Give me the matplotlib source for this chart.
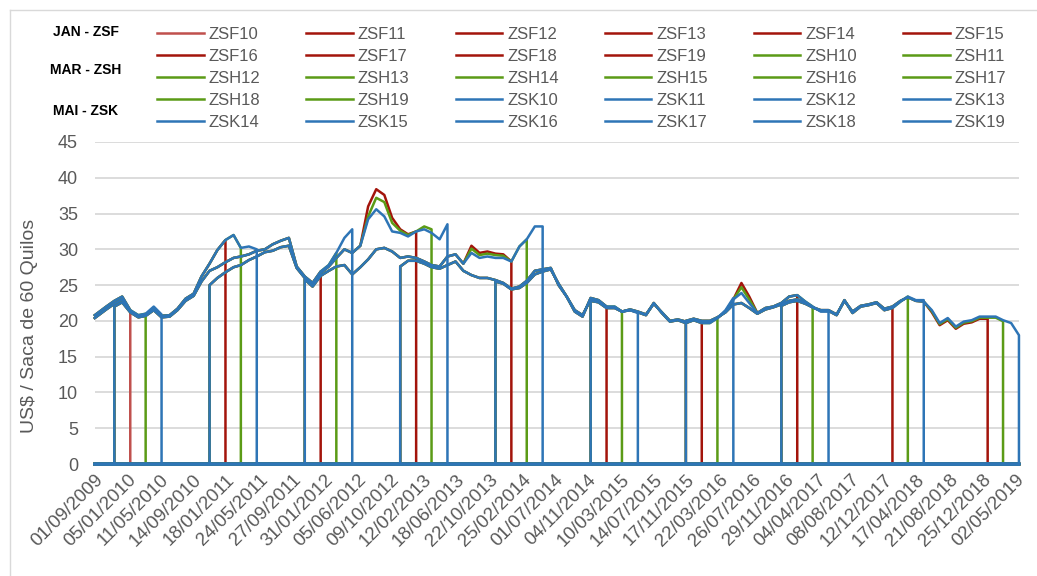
import matplotlib
matplotlib.use('Agg')
import matplotlib.pyplot as plt
from matplotlib.lines import Line2D
import pandas as pd

plt.rcParams['font.family'] = ['Liberation Sans', 'DejaVu Sans']

CINZA = '#595959'
COR_F10 = '#C0504D'
COR_F = '#A3140B'
COR_H = '#5B9B16'
COR_K = '#2E75B6'

anos = list(range(2010, 2020))

# preco do grupo mais proximo (contrato cujo vencimento de maio vem primeiro), US$/saca, dia 15 de cada mes
front = [20.8, 22.0, 22.8, 23.4, 21.5, 20.8, 21.0, 22.0, 20.9, 20.8, 21.7, 23.1,
         23.8, 26.2, 28.0, 29.9, 31.3, 32.0, 30.2, 30.4, 30.0, 30.0, 30.7, 31.2,
         31.6, 27.6, 26.2, 25.3, 26.9, 27.8, 29.5, 31.6, 32.8, 30.5, 34.2, 35.6,
         34.6, 32.5, 32.3, 31.8, 32.5, 32.8, 32.3, 31.4, 33.5, 29.3, 28.0, 29.5,
         28.8, 29.0, 28.8, 28.8, 28.3, 30.4, 31.4, 33.2, 33.2, 27.4, 25.0, 23.4,
         21.3, 20.6, 23.2, 22.9, 22.0, 22.0, 21.3, 21.5, 21.1, 20.8, 22.5, 21.1,
         19.9, 20.1, 19.7, 20.1, 19.7, 19.7, 20.4, 21.5, 23.2, 23.9, 22.5, 21.1,
         21.8, 22.0, 22.5, 23.4, 23.6, 22.7, 22.0, 21.3, 21.3, 20.8, 22.9, 21.1,
         22.0, 22.2, 22.5, 21.5, 21.8, 22.7, 23.4, 22.9, 22.9, 21.5, 19.7, 20.4,
         19.2, 19.9, 20.1, 20.6, 20.6, 20.6, 20.1, 19.7, 18.0]

# grupo do ano seguinte
second = [20.4, 21.6, 22.4, 23.0, 21.3, 20.6, 20.8, 21.7, 20.7, 20.6, 21.5, 22.8,
          23.5, 25.5, 27.0, 27.5, 28.2, 28.8, 29.0, 29.3, 29.8, 29.6, 29.8, 30.3,
          30.5, 27.4, 26.0, 25.2, 26.7, 27.6, 28.8, 30.0, 29.5, 27.5, 28.6, 30.0,
          30.2, 29.7, 28.8, 29.0, 28.8, 28.3, 27.8, 27.6, 29.0, 28.3, 27.0, 26.4,
          26.0, 26.0, 25.7, 25.3, 24.5, 24.8, 25.6, 27.0, 27.2, 27.2, 25.2, 23.4,
          21.5, 20.8, 23.0, 22.7, 21.9, 21.9, 21.3, 21.5, 21.2, 20.9, 22.4, 21.2,
          20.0, 20.2, 19.9, 20.2, 19.9, 19.9, 20.4, 21.3, 23.0, 22.5, 21.8, 21.0,
          21.6, 21.9, 22.3, 22.8, 23.0, 22.5, 21.9, 21.4, 21.4, 20.9, 22.8, 21.3,
          22.1, 22.3, 22.6, 21.7, 22.0, 22.8, 23.3, 22.8, 22.7]

# grupo de dois anos a frente (entre novembro e maio)
N = None
third = [N, N, 22.0, 22.6, 21.2, 20.5, 20.7, 21.5, 20.5, N, N, N,
         N, N, 25.0, 26.0, 26.8, 27.5, 27.8, 28.5, 29.0, N, N, N,
         N, N, 25.8, 24.8, 26.3, 27.0, 27.6, 27.8, 26.5, N, N, N,
         N, N, 27.6, 28.4, 28.4, 28.0, 27.5, 27.3, 27.8, N, N, N,
         N, N, 25.5, 25.2, 24.4, 24.6, 25.3, 26.5, 26.9, N, N, N,
         N, N, 22.8, 22.6, 21.8, 21.8, 21.3, 21.6, 21.3, N, N, N,
         N, N, 20.0, 20.3, 20.0, 20.0, 20.5, 21.2, 22.3, N, N, N,
         N, N, 22.1, 22.6, 22.8, 22.4, 21.9, 21.5, 21.5]

# premio de janeiro/marco sobre maio no grupo mais proximo
premio_idx = [34, 35, 36, 37, 38, 39, 41, 42, 47, 48, 49, 50, 51, 81, 82,
              105, 106, 107, 108, 109, 110, 111, 112, 113, 114]
premio_f = [1.8, 2.8, 3.0, 1.9, 0.5, 0.3, 0.0, 0.0, 1.0, 0.7, 0.7, 0.6, 0.5, 1.4, 0.9,
            -0.3, -0.3, -0.3, -0.3, -0.3, -0.3, -0.3, -0.3, 0.0, 0.0]
premio_h = [0.4, 1.6, 2.0, 1.2, 0.3, 0.2, 0.4, 0.5, 0.6, 0.4, 0.4, 0.4, 0.3, 0.8, 0.5,
            -0.15, -0.15, -0.15, -0.15, -0.15, -0.15, -0.15, -0.15, -0.15, -0.15]

tick_labels = ['01/09/2009', '05/01/2010', '11/05/2010', '14/09/2010', '18/01/2011',
               '24/05/2011', '27/09/2011', '31/01/2012', '05/06/2012', '09/10/2012',
               '12/02/2013', '18/06/2013', '22/10/2013', '25/02/2014', '01/07/2014',
               '04/11/2014', '10/03/2015', '14/07/2015', '17/11/2015', '22/03/2016',
               '26/07/2016', '29/11/2016', '04/04/2017', '08/08/2017', '12/12/2017',
               '17/04/2018', '21/08/2018', '25/12/2018', '02/05/2019']

meses = pd.date_range('2009-09-01', '2019-05-01', freq='MS') + pd.Timedelta(days=14)
datas = [pd.Timestamp('2009-09-01')] + list(meses[1:])
n = len(datas)


def idx_maio(ano):
    return 8 + 12 * (ano - 2010)


def inicio(ano):
    if ano <= 2011:
        return 0
    return 2 + 12 * (ano - 2012)


def valor(ano, i, premio):
    if i > idx_maio(ano - 1):
        return front[i] + premio.get(i, 0.0)
    if i > idx_maio(ano - 2):
        return second[i]
    return third[i]


def serie(ano, fim, premio):
    s = inicio(ano)
    xs, ys = [], []
    for i in range(0, s + 1 if s > 0 else 0):
        xs.append(datas[i])
        ys.append(0)
    for i in range(s, fim + 1):
        xs.append(datas[i])
        ys.append(valor(ano, i, premio))
    xs.append(datas[fim])
    ys.append(0)
    for i in range(fim + 1, n):
        xs.append(datas[i])
        ys.append(0)
    return xs, ys


pf = dict(zip(premio_idx, premio_f))
ph = dict(zip(premio_idx, premio_h))

fig = plt.figure(figsize=(10.37, 5.76), dpi=100)
ax = fig.add_axes([0.0914, 0.1944, 0.8912, 0.5591])

handles = []
for letra, cor, desloc, premio in [('F', COR_F, 4, pf), ('H', COR_H, 2, ph), ('K', COR_K, 0, {})]:
    for ano in anos:
        c = COR_F10 if (letra == 'F' and ano == 2010) else cor
        xs, ys = serie(ano, idx_maio(ano) - desloc, premio)
        h, = ax.plot(xs, ys, color=c, lw=1.8, clip_on=False, solid_joinstyle='round',
                     label='ZS%s%d' % (letra, ano % 100))
        handles.append(h)

ax.set_ylim(0, 45)
ax.set_yticks(range(0, 46, 5))
ax.set_xlim(datas[0], datas[-1])
ax.set_xticks(pd.to_datetime(tick_labels, dayfirst=True))
ax.set_xticklabels(tick_labels, rotation=45, ha='right', rotation_mode='anchor',
                   fontsize=13.5, color=CINZA)
ax.tick_params(axis='y', labelsize=13, colors=CINZA, length=0, pad=12)
ax.tick_params(axis='x', length=0, pad=5)
ax.grid(axis='y', color='#D9D9D9', lw=1.3)
ax.set_axisbelow(True)
for sp in ax.spines.values():
    sp.set_visible(False)
ax.set_ylabel('US$ / Saca de 60 Quilos', fontsize=14, color=CINZA, labelpad=10)
ax.yaxis.set_label_coords(-0.061, 0.43)

# legenda em ordem de linhas (como no Excel)
ncol, nrow = 6, 5
ordem = [handles[r * ncol + c] for c in range(ncol) for r in range(nrow)]
fig.legend(handles=ordem, labels=[h.get_label() for h in ordem], ncol=ncol,
           loc='upper left', bbox_to_anchor=(0.1514, 0.953), frameon=False,
           fontsize=12, labelcolor=CINZA, handlelength=2.8, handletextpad=0.3,
           columnspacing=2.75, labelspacing=0.42, borderpad=0, borderaxespad=0)

for txt, y in [('JAN - ZSF', 32), ('MAR - ZSH', 70), ('MAI - ZSK', 111)]:
    fig.text(86 / 1037, 1 - y / 576, txt, ha='center', va='center', fontsize=10,
             fontweight='bold', color='black')

# borda da area do grafico
fig.add_artist(Line2D([10 / 1037, 1], [1 - 10 / 576, 1 - 10 / 576], color='#D9D9D9', lw=1))
fig.add_artist(Line2D([10 / 1037, 10 / 1037], [0, 1 - 10 / 576], color='#D9D9D9', lw=1))

fig.savefig('out.png', dpi=100)
